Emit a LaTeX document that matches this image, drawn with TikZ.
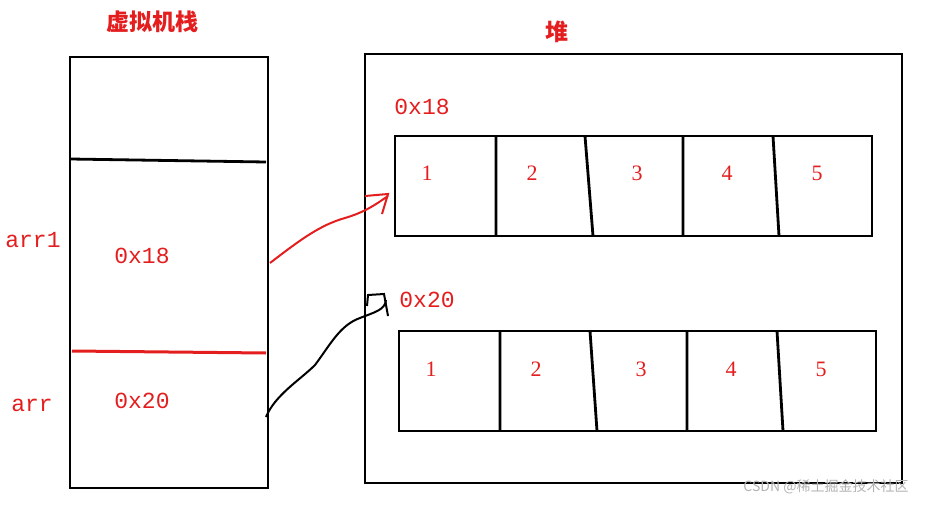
\documentclass[tikz,border=0pt]{standalone}
\usepackage{fontspec}
\setmainfont{Liberation Serif}
\newfontfamily\cjk{Noto Sans CJK SC}
\newfontfamily\monof{Liberation Mono}
\definecolor{rd}{RGB}{228,30,30}
\tikzset{lbl/.style={text=rd,font=\monof\fontsize{23}{25}\selectfont},
num/.style={text=rd,font=\fontsize{22}{24}\selectfont},
ttl/.style={text=rd,font=\cjk\bfseries\fontsize{23}{26}\selectfont},
bx/.style={draw=black,line width=2.8pt}}
\begin{document}
\begin{tikzpicture}[x=1pt,y=-1pt]
\useasboundingbox (0,0) rectangle (933,505);
\node[ttl] (t1) at (152,22) {虚拟机栈};
\node[ttl] (t2) at (557,32) {堆};
\draw[bx] (70,57) rectangle (268,488);
\draw[bx] (70,159) -- (266,162);
\draw[draw=rd,line width=3pt] (72,351) -- (266,353);
\node[lbl] (a1) at (33,240) {arr1};
\node[lbl] (v1) at (142,256) {0x18};
\node[lbl] (a2) at (32,405) {arr};
\node[lbl] (v2) at (142,401) {0x20};
\draw[bx] (365,54) rectangle (902,483);
\node[lbl] (h1) at (422,107) {0x18};
\node[lbl] (h2) at (427,300) {0x20};
\draw[bx] (395,136) rectangle (872,236);
\draw[bx] (496,136)--(496,236) (585,136)--(593,236) (683,136)--(683,236) (773,136)--(779,236);
\foreach \x/\n in {427/1,532/2,637/3,727/4,817/5} \node[num] at (\x,173) {\n};
\draw[bx] (399,331) rectangle (876,431);
\draw[bx] (500,331)--(500,431) (590,331)--(597,431) (687,331)--(687,431) (777,331)--(783,431);
\foreach \x/\n in {431/1,536/2,641/3,731/4,821/5} \node[num] at (\x,369) {\n};
\coordinate (r0) at (270,263); \coordinate (r1) at (388,196);
\draw[rd,line width=2pt] (r0) .. controls (300,240) and (320,225) .. (345,218) .. controls (365,212) and (375,205) .. (r1);
\draw[rd,line width=2pt] (365,196) -- (388,194) -- (382,214);
\coordinate (b0) at (266,417); \coordinate (b1) at (386,300);
\draw[line width=2pt] (b0) .. controls (275,395) and (300,380) .. (315,365) .. controls (330,345) and (340,325) .. (360,318) .. controls (375,312) and (385,310) .. (b1);
\draw[line width=2pt] (367,306) -- (368,295) -- (384,294) -- (388,316);
\node[text=gray!60,font=\cjk\fontsize{14}{16}\selectfont] (wm) at (826,487) {CSDN @稀土掘金技术社区};
\end{tikzpicture}
\end{document}
